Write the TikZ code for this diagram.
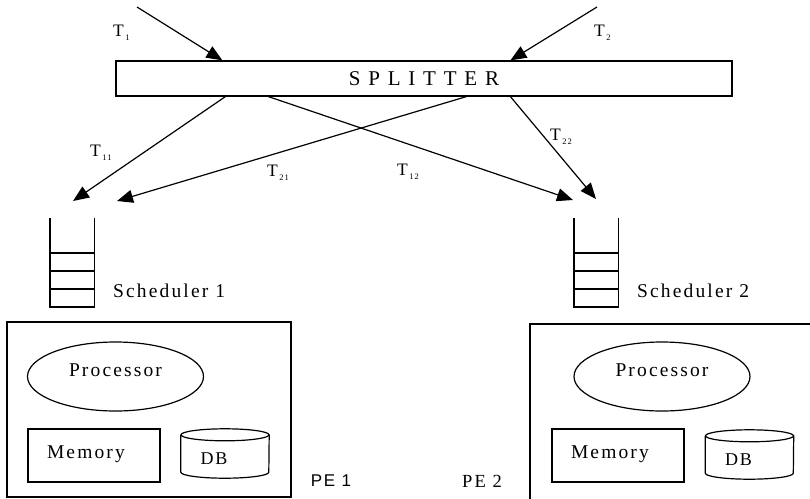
\documentclass[tikz,border=0pt]{standalone}
\usepackage{fontspec}
\setmainfont{Liberation Serif}
\newfontfamily\spacedfont[LetterSpace=11]{Liberation Serif}
\newfontfamily\splitfont[LetterSpace=37]{Liberation Serif}
\newfontfamily\pesansfont[LetterSpace=10]{Liberation Sans}
\usetikzlibrary{calc, arrows.meta, shapes.geometric, positioning}
\newcommand{\labelfont}{\spacedfont\fontsize{19.5}{23}\selectfont}
\newcommand{\tsub}[1]{T\hspace{1.5pt}\raisebox{-4pt}{\spacedfont\fontsize{8.5}{10}\selectfont #1}}

\begin{document}
\begin{tikzpicture}[x=1pt, y=-1pt,
    outline/.style={draw, line width=1.2pt, inner sep=0pt},
    splitbox/.style={outline, rectangle, minimum width=616pt, minimum height=35pt, font={\splitfont\fontsize{21}{25}\selectfont}},
    pebox/.style={outline, rectangle},
    cpu/.style={outline, ellipse, minimum width=176pt, minimum height=69pt, text height=13pt, text depth=14pt, font=\labelfont},
    mem/.style={outline, rectangle, minimum width=132pt, minimum height=53pt, text width=94pt, align=left, text height=13pt, text depth=8pt, font=\labelfont},
    dbframe/.style={rectangle, inner sep=0pt, minimum width=88pt, minimum height=49pt},
    dbtext/.style={font={\spacedfont\fontsize{18}{21}\selectfont}, inner sep=0pt, xshift=-11pt, yshift=-5pt},
    lbl/.style={inner sep=0pt, anchor=base west, font=\labelfont},
    tlbl/.style={inner sep=0pt, anchor=base west, font={\fontsize{17.5}{20}\selectfont}},
    arrow/.style={-{Triangle[length=16pt, width=13pt]}, line width=1.2pt}
]
    \useasboundingbox (0,0) rectangle (810,498);
    \clip (0,0) rectangle (810,498);

    % ================= SPLITTER =================
    \node[splitbox] (split) at (424,78.5) {SPLITTER};
    \coordinate (t1src) at (137,7);
    \coordinate (t2src) at (597,7);
    \coordinate (t1in) at ($(split.north west)+(107,0)$);
    \coordinate (t2in) at ($(split.north west)+(395,0)$);
    \draw[arrow] (t1src) -- (t1in);
    \draw[arrow] (t2src) -- (t2in);
    \node[tlbl] (lt1) at (113,36) {\tsub{1}};
    \node[tlbl] (lt2) at (594,36) {\tsub{2}};

    % ================= SPLIT TRANSACTIONS =================
    \coordinate (out11) at ($(split.south west)+(110,0)$);
    \coordinate (out12) at ($(split.south west)+(153,0)$);
    \coordinate (out21) at ($(split.south west)+(351,0)$);
    \coordinate (out22) at ($(split.south west)+(395,0)$);
    \coordinate (q1a) at (73,201);
    \coordinate (q1b) at (117,201);
    \coordinate (q2a) at (573,200);
    \coordinate (q2b) at (596,199);
    \draw[arrow] (out11) -- (q1a);
    \draw[arrow] (out21) -- (q1b);
    \draw[arrow] (out12) -- (q2a);
    \draw[arrow] (out22) -- (q2b);
    \node[tlbl] (lt11) at (90,156) {\tsub{11}};
    \node[tlbl] (lt21) at (267,176) {\tsub{21}};
    \node[tlbl] (lt12) at (397,175) {\tsub{12}};
    \node[tlbl] (lt22) at (550,140) {\tsub{22}};

    % ================= SCHEDULERS =================
    \foreach \qx in {50,574} {
        \draw[line width=1.2pt] (\qx,218) -- (\qx,307) -- (\qx+44.5,307) -- (\qx+44.5,218);
        \foreach \qy in {253,271,289}
            \draw[line width=1.2pt] (\qx,\qy) -- (\qx+44.5,\qy);
    }
    \node[lbl] (sch1) at (113,297) {Scheduler 1};
    \node[lbl] (sch2) at (637,297) {Scheduler 2};

    % ================= PE 1 =================
    \node[pebox, minimum width=284pt, minimum height=175pt] (pe1) at (149,409.5) {};
    \node[cpu] (cpu1) at (115.5,376.5) {Processor};
    \node[mem] (mem1) at (94,455.5) {Memory};
    \node[dbframe, label={[name=dbl1, dbtext]center:DB}] (db1) at (225,453.5) {};
    \node[inner sep=0pt, font={\pesansfont\fontsize{17}{20}\selectfont}] (pel1) at (331,481) {PE 1};

    % ================= PE 2 =================
    \node[pebox, minimum width=300pt, minimum height=181pt] (pe2) at (680,414.5) {};
    \node[cpu] (cpu2) at (662,376.5) {Processor};
    \node[mem] (mem2) at (618,455.5) {Memory};
    \node[dbframe, label={[name=dbl2, dbtext]center:DB}] (db2) at (749.5,454.5) {};
    \node[inner sep=0pt, font={\spacedfont\fontsize{18.5}{22}\selectfont}] (pel2) at (482,481) {PE 2};

    % DB cylinders
    \foreach \db in {db1,db2} {
        \draw[line width=1.2pt] ($(\db.north)+(0,6)$) ellipse [x radius=44pt, y radius=6pt];
        \draw[line width=1.2pt] ($(\db.north west)+(0,6)$) -- ($(\db.south west)+(0,-6)$)
            arc[start angle=180, end angle=360, x radius=44pt, y radius=6pt] -- ($(\db.north east)+(0,6)$);
    }
\end{tikzpicture}
\end{document}
